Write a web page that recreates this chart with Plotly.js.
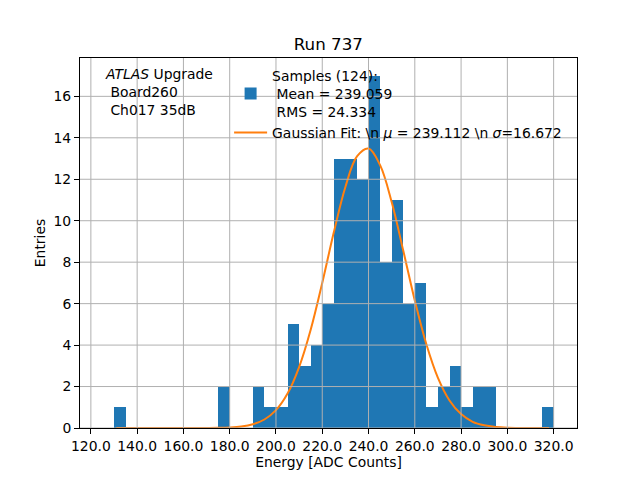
<!DOCTYPE html>
<html>
<head>
<meta charset="utf-8">
<script src="https://cdn.plot.ly/plotly-3.0.1.min.js"></script>
<style>
  html, body { margin: 0; padding: 0; background: #fff; }
  #chart { width: 640px; height: 480px; }
</style>
</head>
<body>
<div id="chart"></div>
<script>
// histogram: 5 ADC-count bins starting at 130
const binStart = 130;
const binWidth = 5;
const counts = [1, 0, 0, 0, 0, 0, 0, 0, 0, 2, 0, 0, 2, 1, 1, 5, 3, 4, 6, 13,
                13, 12, 17, 8, 11, 6, 7, 1, 2, 3, 1, 2, 2, 0, 0, 0, 0, 1];

// gaussian fit curve
const fitX = [131, 140, 150, 160, 170, 175, 180, 185, 190, 195, 200, 205, 210, 215, 220,
              225, 230, 235, 240, 245, 250, 255, 260, 265, 270, 275, 280, 285, 290, 295,
              300, 310, 318];
const fitY = [0, 0, 0, 0, 0.003, 0.008, 0.025, 0.07, 0.18, 0.41, 0.86, 1.66, 2.94, 4.74, 7.0,
              9.44, 11.63, 13.1, 13.48, 12.68, 10.9, 8.56, 6.15, 4.04, 2.42, 1.33, 0.67, 0.30, 0.13, 0.05,
              0.017, 0.001, 0];

const xTicks = [120, 140, 160, 180, 200, 220, 240, 260, 280, 300, 320];
const yTicks = [0, 2, 4, 6, 8, 10, 12, 14, 16];

const histLabel = 'Samples (124):<br>\u00a0Mean = 239.059<br>\u00a0RMS = 24.334';
const fitLabel = 'Gaussian Fit: \\n <i>\u03bc</i> = 239.112 \\n <i>\u03c3</i>=16.672';
const infoText = '<i>ATLAS</i> Upgrade<br>\u00a0Board260<br>\u00a0Ch017 35dB';

const binCenters = counts.map((c, i) => binStart + binWidth * (i + 0.5));

const font = 'DejaVu Sans, sans-serif';

// grid on top of the bars, like matplotlib
const grid = [];
xTicks.forEach(v => grid.push({
  type: 'line', xref: 'x', yref: 'paper', x0: v, x1: v, y0: 0, y1: 1,
  line: {color: '#b0b0b0', width: 1}, layer: 'above'
}));
yTicks.forEach(v => grid.push({
  type: 'line', xref: 'paper', yref: 'y', x0: 0, x1: 1, y0: v, y1: v,
  line: {color: '#b0b0b0', width: 1}, layer: 'above'
}));

Plotly.newPlot('chart', [{
  type: 'bar',
  x: binCenters,
  y: counts,
  width: binWidth,
  marker: {color: '#1f77b4', line: {width: 0}},
  name: histLabel,
}, {
  type: 'scatter',
  mode: 'lines',
  x: fitX,
  y: fitY,
  line: {color: '#ff7f0e', width: 2, shape: 'spline', smoothing: 1},
  name: fitLabel,
}], {
  width: 640,
  height: 480,
  margin: {l: 80, r: 63, t: 58, b: 52},
  paper_bgcolor: '#fff',
  plot_bgcolor: '#fff',
  font: {family: font, size: 13.9, color: '#000'},
  bargap: 0,
  title: {
    text: 'Run 737',
    font: {family: font, size: 16.7, color: '#000'},
    x: 0.513, xanchor: 'center',
    yref: 'container', y: 0.908, yanchor: 'middle'
  },
  xaxis: {
    range: [115.3, 330.1],
    tickvals: xTicks,
    tickformat: '.1f',
    ticks: 'outside', ticklen: 5, tickwidth: 1, tickcolor: '#000',
    showgrid: false, zeroline: false,
    showline: true, mirror: true, linecolor: '#000', linewidth: 1,
    title: {text: 'Energy [ADC Counts]', standoff: 4, font: {size: 13.9}}
  },
  yaxis: {
    range: [0, 17.85],
    tickvals: yTicks,
    ticks: 'outside', ticklen: 5, tickwidth: 1, tickcolor: '#000',
    showgrid: false, zeroline: false,
    showline: true, mirror: true, linecolor: '#000', linewidth: 1,
    title: {text: 'Entries', standoff: 4, font: {size: 13.9}}
  },
  legend: {
    x: 0.30, xanchor: 'left',
    y: 0.995, yanchor: 'top',
    bgcolor: 'rgba(0,0,0,0)',
    borderwidth: 0,
    font: {family: font, size: 13.9, color: '#000'},
    itemwidth: 33,
    traceorder: 'normal'
  },
  showlegend: true,
  shapes: grid,
  annotations: [{
    text: infoText,
    xref: 'paper', yref: 'paper',
    x: 0.046, y: 0.983, xanchor: 'left', yanchor: 'top',
    align: 'left', showarrow: false,
    font: {family: font, size: 13.9, color: '#000'}
  }]
}, {displayModeBar: false, staticPlot: true});
</script>
</body>
</html>
